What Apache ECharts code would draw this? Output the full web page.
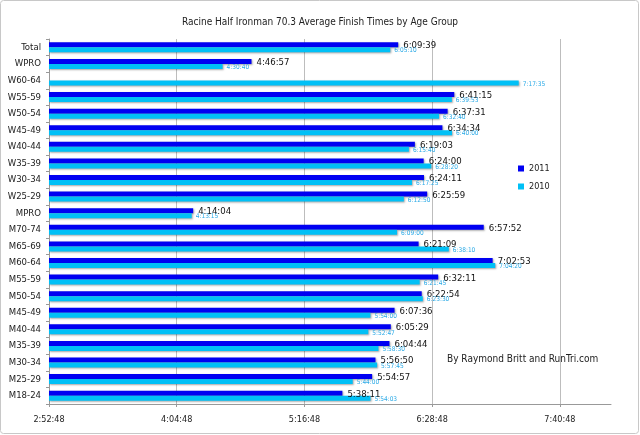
<!DOCTYPE html>
<html>
<head>
<meta charset="utf-8">
<script src="https://cdn.jsdelivr.net/npm/echarts@6/dist/echarts.min.js"></script>
<style>html,body{margin:0;padding:0;background:#fff}#c{width:640px;height:435px}</style>
</head>
<body>
<div id="c"></div>
<script>
var categories = ["Total","WPRO","W60-64","W55-59","W50-54","W45-49","W40-44","W35-39","W30-34","W25-29","MPRO","M70-74","M65-69","M60-64","M55-59","M50-54","M45-49","M40-44","M35-39","M30-34","M25-29","M18-24"];
var times2011 = ["6:09:39","4:46:57",null,"6:41:15","6:37:31","6:34:34","6:19:03","6:24:00","6:24:11","6:25:59","4:14:04","6:57:52","6:21:09","7:02:53","6:32:11","6:22:54","6:07:36","6:05:29","6:04:44","5:56:50","5:54:57","5:38:11"];
var times2010 = ["6:05:10","4:30:40","7:17:35","6:39:53","6:32:40","6:40:00","6:15:40","6:28:20","6:17:25","6:12:50","4:13:15","6:09:00","6:38:10","7:04:20","6:21:45","6:23:30","5:54:00","5:52:47","5:58:30","5:57:45","5:44:00","5:54:03"];
var tickLabels = ["2:52:48","4:04:48","5:16:48","6:28:48","7:40:48"];
var axisMaxTime = "8:09:36";

function toSec(t){ if(t==null) return null; var p=t.split(':').map(Number); return p[0]*3600+p[1]*60+p[2]; }
function fmt(s){ s=Math.round(s); var h=Math.floor(s/3600), m=Math.floor((s%3600)/60), x=s%60; return h+':'+(m<10?'0':'')+m+':'+(x<10?'0':'')+x; }

var ticks = tickLabels.map(toSec);
var xmin = ticks[0], xint = ticks[1]-ticks[0], xmax = toSec(axisMaxTime);
var font = "'DejaVu Sans Condensed','Liberation Sans',sans-serif";
var shadow = {shadowColor:'rgba(0,0,0,0.35)', shadowBlur:2, shadowOffsetX:1, shadowOffsetY:1};

var chart = echarts.init(document.getElementById('c'), null, {renderer:'canvas'});
chart.setOption({
  animation:false,
  textStyle:{fontFamily:font},
  title:{text:'Racine Half Ironman 70.3 Average Finish Times by Age Group', left:'center', top:12,
    textStyle:{fontSize:10, fontWeight:'normal', color:'#222', fontFamily:font}},
  legend:{orient:'vertical', left:513, top:159, itemWidth:6, itemHeight:6, itemGap:9,
    icon:'rect', textStyle:{fontSize:9, color:'#222', fontFamily:font}, data:['2011','2010']},
  grid:{left:49, right:29, top:39, bottom:31, containLabel:false},
  xAxis:{type:'value', min:xmin, max:xmax, interval:xint,
    axisLine:{show:true, lineStyle:{color:'#999'}},
    axisTick:{show:true, length:3, lineStyle:{color:'#999'}},
    axisLabel:{formatter:function(v){return fmt(v);}, showMaxLabel:false, fontSize:9, color:'#222', margin:11, fontFamily:font},
    splitLine:{show:false}},
  yAxis:{type:'category', inverse:true, data:categories,
    axisLine:{show:true, lineStyle:{color:'#999'}},
    axisTick:{show:true, length:3, inside:false, lineStyle:{color:'#999'}},
    axisLabel:{fontSize:9.5, color:'#222', margin:8, fontFamily:font}},
  graphic:[
    {type:'rect', shape:{x:0.5, y:0.5, width:638, height:433, r:3}, style:{fill:'none', stroke:'#c8c8c8', lineWidth:1}, z:-1},
    {type:'text', left:447, top:354, style:{text:'By Raymond Britt and RunTri.com', fontSize:10, fill:'#222', fontFamily:font}}
  ],
  series:[
    {name:'2011', type:'bar', barWidth:5, barGap:'0%', data:times2011.map(toSec), z:3,
      itemStyle:Object.assign({color:'#0000F2'}, shadow),
      label:{show:true, position:'right', distance:5, offset:[0,1], fontSize:9.5, color:'#111', fontFamily:font,
        formatter:function(p){return p.value==null?'':fmt(p.value);}},
      markLine:{silent:true, symbol:'none', label:{show:false}, z:1,
        lineStyle:{color:'#bdbdbd', type:'solid', width:1},
        data:ticks.slice(1).map(function(v){return {xAxis:v};})}},
    {name:'2010', type:'bar', barWidth:5, barGap:'0%', data:times2010.map(toSec), z:3,
      itemStyle:Object.assign({color:'#00C0F6'}, shadow),
      label:{show:true, position:'right', distance:4, offset:[0,1], fontSize:6.5, color:'#29a9e6', fontFamily:font,
        formatter:function(p){return p.value==null?'':fmt(p.value);}}}
  ]
});
</script>
</body>
</html>
